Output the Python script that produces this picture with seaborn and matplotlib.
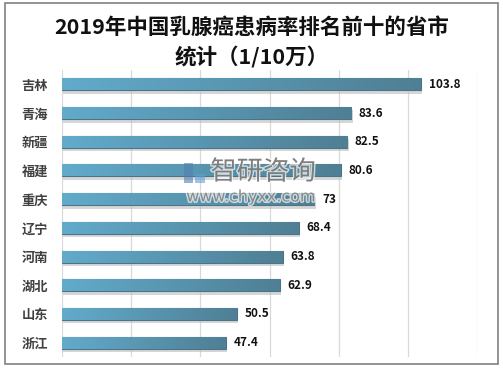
import numpy as np
import pandas as pd
import matplotlib
matplotlib.use("Agg")
import matplotlib.pyplot as plt
import matplotlib.patheffects as pe
import seaborn as sns
from matplotlib.patches import Rectangle

provinces = ["吉林", "青海", "新疆", "福建", "重庆", "辽宁", "河南", "湖北", "山东", "浙江"]
rates = [103.8, 83.6, 82.5, 80.6, 73, 68.4, 63.8, 62.9, 50.5, 47.4]
rate_labels = ["103.8", "83.6", "82.5", "80.6", "73", "68.4", "63.8", "62.9", "50.5", "47.4"]

df = pd.DataFrame({"province": provinces, "rate": rates})

sns.set_style("white")
plt.rcParams['font.family'] = ['Noto Sans CJK SC', 'DejaVu Sans']

fig = plt.figure(figsize=(5.03, 3.68), dpi=100)
ax = fig.add_axes([62 / 503, 1 - 357 / 368, (477 - 62) / 503, (357 - 70) / 368])

sns.barplot(data=df, x="rate", y="province", orient="h", width=0.42,
            color="#5a9ab6", edgecolor="#4a7488", linewidth=0.8, ax=ax, zorder=3)

# gradient fill + shadow for each bar
grad = np.linspace(0, 1, 256).reshape(1, -1)
cmap = matplotlib.colors.LinearSegmentedColormap.from_list("bar", ["#62abcb", "#4f7f94"])
for p in ax.patches:
    x0, y0, w, h = p.get_x(), p.get_y(), p.get_width(), p.get_height()
    shadow = Rectangle((x0 + 0.4, y0 + 0.12), w, h, facecolor="#bbbbbb", alpha=0.6,
                       edgecolor="none", zorder=2)
    ax.add_patch(shadow)
    im = ax.imshow(grad, extent=[x0, x0 + w, y0 + h, y0], cmap=cmap, aspect="auto", zorder=3.5)
    im.set_clip_path(p)

for p, lab in zip(ax.patches, rate_labels):
    ax.text(p.get_x() + p.get_width() + 2.2, p.get_y() + p.get_height() / 2, lab,
            va="center", ha="left", fontsize=8.5, fontweight="bold", color="#111111", zorder=5)

ax.set_xlim(0, 120)
ax.set_ylim(9.5, -0.5)
ax.set_xticks(np.arange(0, 121, 20))
ax.set_xticklabels([])
ax.grid(axis="x", color="#d9d9d9", linewidth=0.9, zorder=0)
ax.set_xlabel("")
ax.set_ylabel("")
ax.tick_params(axis="y", length=0, pad=10, labelsize=9.5, labelcolor="#404040")
for lbl in ax.get_yticklabels():
    lbl.set_fontweight("bold")
for s in ax.spines.values():
    s.set_visible(False)

fig.text(0.5, 1 - 27 / 368, "2019年中国乳腺癌患病率排名前十的省市", ha="center", va="center",
         fontsize=15.5, fontweight="bold", color="#111111")
fig.text(0.5, 1 - 57 / 368, "统计（1/10万）", ha="center", va="center",
         fontsize=15.5, fontweight="bold", color="#111111")

# watermark
halo = [pe.withStroke(linewidth=2, foreground="white", alpha=0.7)]
fig.patches.append(Rectangle((184 / 503, 1 - 183 / 368), 9 / 503, 20 / 368,
                             transform=fig.transFigure, facecolor="#4f7fb0", alpha=0.6,
                             edgecolor="none", zorder=10))
fig.patches.append(Rectangle((195 / 503, 1 - 183 / 368), 10 / 503, 9 / 368,
                             transform=fig.transFigure, facecolor="#5fa0d8", alpha=0.6,
                             edgecolor="none", zorder=10))
fig.text(263 / 503, 1 - 172 / 368, "智研咨询", ha="center", va="center", fontsize=19,
         color="#606060", alpha=0.75, zorder=10, path_effects=halo)
fig.text(316 / 503, 1 - 197 / 368, "www.chyxx.com", ha="right", va="center", fontsize=11.5,
         color="#6a6a6a", alpha=0.7, zorder=10, family=["DejaVu Sans"], path_effects=halo)

fig.patches.append(Rectangle((5 / 503, 1 - 364 / 368), 493 / 503, 361 / 368,
                             transform=fig.transFigure, fill=False,
                             edgecolor="#808080", linewidth=1.2))

fig.savefig("out.png", dpi=100)
